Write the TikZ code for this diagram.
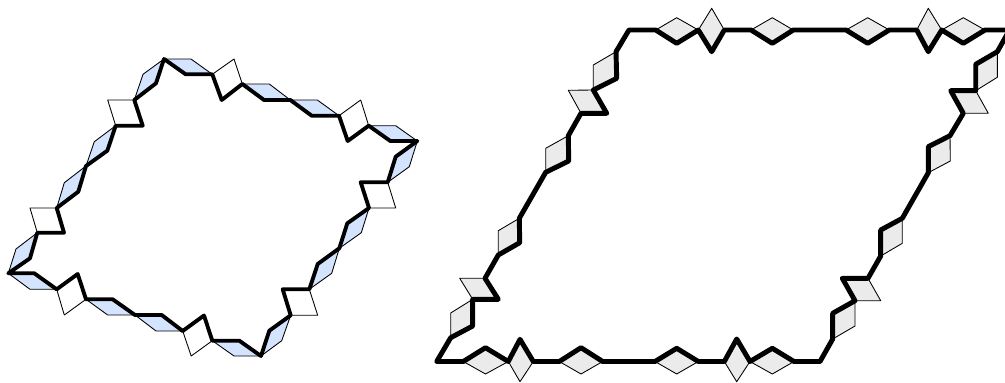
\documentclass[tikz,border=0pt]{standalone}
\definecolor{tileblue}{RGB}{212,228,255}
\definecolor{tilegrey}{RGB}{235,235,235}
\tikzset{
    bluetile/.style={draw=black, fill=tileblue, line width=0.65pt, line join=round},
    whitetile/.style={draw=black, fill=white, line width=0.65pt, line join=round},
    greytile/.style={draw=black, fill=tilegrey, line width=0.65pt, line join=round},
    thinwall/.style={draw=black, line width=2.9pt, line join=round, line cap=round},
    thickwall/.style={draw=black, line width=3.7pt, line join=round, line cap=round}
}
\begin{document}
\begin{tikzpicture}[x=0.75pt, y=-0.75pt]
    \useasboundingbox (0,0) rectangle (1005,382);
    \clip (0,0) rectangle (1005,382);

    \begin{scope}
        \draw [bluetile] (56.7,208) -- (78.3,191.7) -- (86,166) -- (64.3,182.7) -- cycle;
        \draw [bluetile] (86,166) -- (107.3,150.7) -- (115.7,125.7) -- (94.3,141.7) -- cycle;
        \draw [whitetile] (115.7,125.7) -- (142.7,125.7) -- (134.3,100) -- (107.7,100) -- cycle;
        \draw [bluetile] (134.3,100) -- (156,83.3) -- (164,59) -- (143,74.3) -- cycle;
        \draw [bluetile] (164,59) -- (191,59) -- (212.3,74.3) -- (185.7,74.3) -- cycle;
        \draw [whitetile] (212.3,74.3) -- (221.7,100) -- (242.3,84) -- (234,59) -- cycle;
        \draw [bluetile] (242.3,84) -- (269.3,84) -- (290.3,100) -- (264,100) -- cycle;
        \draw [bluetile] (290.3,100) -- (317.3,100) -- (339,115.7) -- (311.7,115.7) -- cycle;
        \draw [whitetile] (339,115.7) -- (360.7,100) -- (368.7,125.7) -- (347.7,141) -- cycle;
        \draw [bluetile] (368.7,125.7) -- (395.7,125.7) -- (417.3,141) -- (390.3,141) -- cycle;
        \draw [bluetile] (417.3,141) -- (409.3,166.7) -- (387.7,182.3) -- (395.7,156.7) -- cycle;
        \draw [whitetile] (387.7,182.3) -- (360.7,182.3) -- (369,208) -- (395.7,208) -- cycle;
        \draw [bluetile] (369,208) -- (347.3,223.3) -- (339.3,248.3) -- (361.3,232.7) -- cycle;
        \draw [bluetile] (339.3,248.3) -- (317.7,264) -- (309.3,289.3) -- (331.7,273.3) -- cycle;
        \draw [whitetile] (309.3,289.3) -- (282.7,289.3) -- (290.7,315.3) -- (317.7,315.3) -- cycle;
        \draw [bluetile] (290.7,315.3) -- (269.3,330.7) -- (261,356) -- (281.7,340.7) -- cycle;
        \draw [bluetile] (261,356) -- (239.3,340.7) -- (212.3,340.7) -- (234,356) -- cycle;
        \draw [whitetile] (212.3,340.7) -- (204,315.5) -- (182.7,331) -- (191.2,356) -- cycle;
        \draw [bluetile] (182.7,331) -- (161.7,315) -- (135,315) -- (156,331) -- cycle;
        \draw [bluetile] (135,315) -- (112.7,299.3) -- (86,299.3) -- (107.7,315) -- cycle;
        \draw [whitetile] (86,299.3) -- (77.7,274) -- (56.7,289.3) -- (64.3,315) -- cycle;
        \draw [bluetile] (56.7,289.3) -- (34.3,273.3) -- (8.3,273.3) -- (30,289.3) -- cycle;
        \draw [bluetile] (8.3,273.3) -- (30,258.3) -- (37.3,232.7) -- (16,249) -- cycle;
        \draw [whitetile] (37.3,232.7) -- (64,232.7) -- (56.7,208) -- (30,208) -- cycle;
        \draw [thinwall] (56.7,208) -- (78.3,191.7) -- (86,166) -- (107.3,150.7) -- (115.7,125.7)
            -- (142.7,125.7) -- (134.3,100) -- (156,83.3) -- (164,59) -- (185.7,74.3) -- (212.3,74.3)
            -- (221.7,100) -- (242.3,84) -- (264,100) -- (290.3,100) -- (311.7,115.7) -- (339,115.7)
            -- (347.7,141) -- (368.7,125.7) -- (390.3,141) -- (417.3,141) -- (395.7,156.7) -- (387.7,182.3)
            -- (360.7,182.3) -- (369,208) -- (347.3,223.3) -- (339.3,248.3) -- (317.7,264) -- (309.3,289.3)
            -- (282.7,289.3) -- (290.7,315.3) -- (269.3,330.7) -- (261,356) -- (239.3,340.7) -- (212.3,340.7)
            -- (204,315.5) -- (182.7,331) -- (161.7,315) -- (135,315) -- (112.7,299.3) -- (86,299.3)
            -- (77.7,274) -- (56.7,289.3) -- (34.3,273.3) -- (8.3,273.3) -- (30,258.3) -- (37.3,232.7)
            -- (64,232.7) -- cycle;
    \end{scope}

    \begin{scope}
        \draw [greytile] (519.3,218.3) -- (519.7,242.7) -- (498.3,255) -- (498.3,230.7) -- cycle;
        \draw [greytile] (485,278.3) -- (498.3,299.3) -- (472.7,299.3) -- (459.7,278.3) -- cycle;
        \draw [greytile] (472.7,299.3) -- (472.7,326) -- (450.7,337.7) -- (450.7,313) -- cycle;
        \draw [greytile] (463.3,361.5) -- (485.5,347.7) -- (508.3,361.5) -- (485.5,374) -- cycle;
        \draw [greytile] (508.3,361.5) -- (520,339.3) -- (533.3,361.5) -- (520,381.7) -- cycle;
        \draw [greytile] (559.3,361.5) -- (581,347.7) -- (602.7,361.5) -- (581,374) -- cycle;
        \draw [greytile] (655,361.5) -- (676.7,348.3) -- (698.3,361.5) -- (676.7,374) -- cycle;
        \draw [greytile] (724.3,361.5) -- (736.7,339) -- (750,361.5) -- (736.7,381.7) -- cycle;
        \draw [greytile] (750,361.5) -- (772.3,348.3) -- (794,361.5) -- (772.3,374) -- cycle;
        \draw [greytile] (832.7,339) -- (832.7,313.3) -- (855,300.7) -- (855,326) -- cycle;
        \draw [greytile] (855,300.7) -- (842.3,278.3) -- (868,278.3) -- (880.7,300.7) -- cycle;
        \draw [greytile] (880.7,256) -- (880.7,230) -- (902.3,218.3) -- (902.3,243.3) -- cycle;
        \draw [greytile] (928.3,172.7) -- (928.3,146.7) -- (950,135.7) -- (950.3,161) -- cycle;
        \draw [greytile] (963.3,113.3) -- (950.7,90.7) -- (975.7,90.7) -- (988.3,113.3) -- cycle;
        \draw [greytile] (975.7,90.7) -- (975.7,64.3) -- (997.3,51.7) -- (997.3,77.3) -- cycle;
        \draw [greytile] (941.7,30) -- (963.3,17.7) -- (985,30) -- (963.3,43.3) -- cycle;
        \draw [greytile] (916.7,30) -- (928.3,8.3) -- (941.7,30) -- (928.3,51.7) -- cycle;
        \draw [greytile] (846,30) -- (867.7,17.7) -- (889.3,30) -- (867.7,43.3) -- cycle;
        \draw [greytile] (751,30) -- (772.3,17.7) -- (793.3,30) -- (772.3,43.3) -- cycle;
        \draw [greytile] (698.3,30) -- (711.7,8.3) -- (724.3,30) -- (711.7,51.7) -- cycle;
        \draw [greytile] (655.7,30) -- (676.7,17.7) -- (698.3,30) -- (676.7,43.3) -- cycle;
        \draw [greytile] (616,51.7) -- (616.7,78.3) -- (593.3,90) -- (593.3,65) -- cycle;
        \draw [greytile] (593.3,90) -- (606.7,113.3) -- (581,113.3) -- (568.3,90.3) -- cycle;
        \draw [greytile] (568.3,135.7) -- (568.7,161) -- (545.7,172.3) -- (545.7,148.3) -- cycle;
        \draw [thickwall] (436.7,361.5) -- (463.3,361.5) -- (485.5,347.7) -- (508.3,361.5) -- (520,339.3)
            -- (533.3,361.5) -- (559.3,361.5) -- (581,347.7) -- (602.7,361.5) -- (655,361.5) -- (676.7,348.3)
            -- (698.3,361.5) -- (724.3,361.5) -- (736.7,339) -- (750,361.5) -- (772.3,348.3) -- (794,361.5)
            -- (820,361.5) -- (832.7,339) -- (832.7,313.3) -- (855,300.7) -- (842.3,278.3) -- (868,278.3)
            -- (880.7,256) -- (880.7,230) -- (902.3,218.3) -- (928.3,172.7) -- (928.3,146.7) -- (950,135.7)
            -- (963.3,113.3) -- (950.7,90.7) -- (975.7,90.7) -- (975.7,64.3) -- (997.3,51.7) -- (1009.5,30)
            -- (985,30) -- (963.3,43.3) -- (941.7,30) -- (928.3,51.7) -- (916.7,30) -- (889.3,30) -- (867.7,43.3)
            -- (846,30) -- (793.3,30) -- (772.3,43.3) -- (751,30) -- (724.3,30) -- (711.7,51.7) -- (698.3,30)
            -- (676.7,43.3) -- (655.7,30) -- (629,30) -- (616,51.7) -- (616.7,78.3) -- (593.3,90) -- (606.7,113.3)
            -- (581,113.3) -- (568.3,135.7) -- (568.7,161) -- (545.7,172.3) -- (519.3,218.3) -- (519.7,242.7)
            -- (498.3,255) -- (485,278.3) -- (498.3,299.3) -- (472.7,299.3) -- (472.7,326) -- (450.7,337.7)
            -- cycle;
    \end{scope}
\end{tikzpicture}
\end{document}
